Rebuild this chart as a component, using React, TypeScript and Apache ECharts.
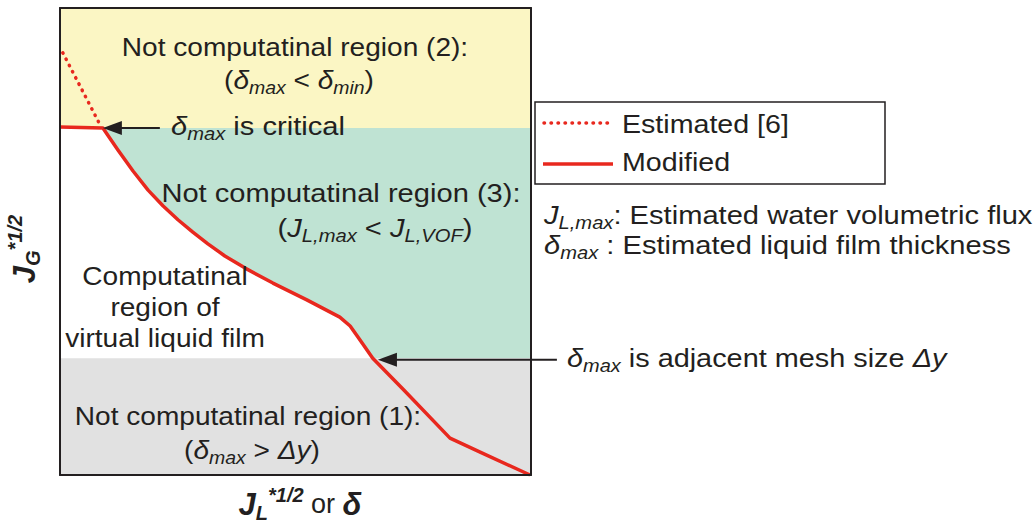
import React, { useEffect, useRef } from "react";
import * as echarts from "echarts";

// ---- data (abstract units: both axes 0..100) ----
const xRange = [0, 100];
const yRange = [0, 100];
const curveX = [0, 9.1, 12.3, 15.5, 18.7, 21.9, 25.1, 28.2, 31.4, 35.0, 39.3, 45.2, 52.4, 59.4, 61.6, 63.7, 66.4, 73.0, 82.8, 89.2, 99.8];
const curveY = [74.5, 74.3, 69.6, 65.1, 61.0, 57.6, 54.6, 52.0, 49.5, 46.9, 44.3, 41.1, 37.5, 33.8, 31.9, 28.9, 25.0, 18.2, 7.9, 4.9, 0];
const estX = [0.6, 8.5];
const estY = [90.4, 75.0];
const yellowBottom = 74.3;
const greyTop = 25.0;
const arrowCritical = [[21.2, 74.3], [9.1, 74.3]];
const arrowMesh = [[105.5, 24.7], [67.5, 24.7]];
const seriesNames = ["Estimated [6]", "Modified"];

const FONT = "'Liberation Sans', Arial, Helvetica, sans-serif";
const TXT = "#231f20";
const RED = "#e8281e";
const FS = 26;

const rich: any = {
  n: { fontSize: FS, lineHeight: 34, fontFamily: FONT, fill: TXT, color: TXT, verticalAlign: "middle" },
  i: { fontSize: FS, lineHeight: 34, fontFamily: FONT, fontStyle: "italic", fill: TXT, color: TXT, verticalAlign: "middle" },
  s: { fontSize: 18, lineHeight: 16, fontFamily: FONT, fontStyle: "italic", fill: TXT, color: TXT, verticalAlign: "bottom" },
  b: { fontSize: 31, lineHeight: 38, fontFamily: FONT, fontStyle: "italic", fontWeight: "bold", fill: TXT, color: TXT, verticalAlign: "middle" },
  bn: { fontSize: 27, lineHeight: 38, fontFamily: FONT, fill: TXT, color: TXT, verticalAlign: "middle" },
  bs: { fontSize: 20, lineHeight: 16, fontFamily: FONT, fontStyle: "italic", fontWeight: "bold", fill: TXT, color: TXT, verticalAlign: "bottom" },
  bp: { fontSize: 20, lineHeight: 19, fontFamily: FONT, fontStyle: "italic", fontWeight: "bold", fill: TXT, color: TXT, verticalAlign: "top" },
};

function txt(text: string, x: number, y: number, align = "center", sx = 1.08, extra: any = {}) {
  return {
    type: "text",
    x,
    y,
    scaleX: sx,
    z: 100,
    style: { text, rich, align, verticalAlign: "middle", fill: TXT, font: `${FS}px ${FONT}` },
    ...extra,
  };
}

export default function App() {
  const ref = useRef<HTMLDivElement>(null);
  useEffect(() => {
    const chart = echarts.init(ref.current!, null, { renderer: "svg" });
    const curve = curveX.map((x, k) => [x, curveY[k]]);
    const est = estX.map((x, k) => [x, estY[k]]);
    const teal = curve.filter((p) => p[1] >= greyTop).concat([[xRange[1], greyTop]]);
    const axisLine = { show: true, onZero: false, lineStyle: { color: TXT, width: 2 } };
    const hidden = { axisTick: { show: false }, axisLabel: { show: false }, splitLine: { show: false } };
    chart.setOption({
      animation: false,
      backgroundColor: "#fff",
      grid: { left: 60, top: 8, width: 471, height: 467 },
      xAxis: [
        { type: "value", min: xRange[0], max: xRange[1], position: "bottom", axisLine, ...hidden, z: 10 },
        { type: "value", min: xRange[0], max: xRange[1], position: "top", axisLine, ...hidden, z: 10 },
      ],
      yAxis: [
        { type: "value", min: yRange[0], max: yRange[1], position: "left", axisLine, ...hidden, z: 10 },
        { type: "value", min: yRange[0], max: yRange[1], position: "right", axisLine, ...hidden, z: 10 },
      ],
      series: [
        {
          type: "line", data: teal, symbol: "none", z: 1, silent: true,
          lineStyle: { width: 0, opacity: 0 },
          areaStyle: { color: "#bfe3d3", opacity: 1, origin: "end" },
        },
        {
          type: "line", data: [[xRange[0], yellowBottom], [xRange[1], yellowBottom]], symbol: "none", z: 2, silent: true,
          lineStyle: { width: 0, opacity: 0 },
          areaStyle: { color: "#fbf6c4", opacity: 1, origin: "end" },
        },
        {
          type: "line", data: [[xRange[0], greyTop], [xRange[1], greyTop]], symbol: "none", z: 2, silent: true,
          lineStyle: { width: 0, opacity: 0 },
          areaStyle: { color: "#e1e1e1", opacity: 1, origin: "start" },
        },
        {
          name: seriesNames[0], type: "line", data: est, symbol: "none", z: 5,
          lineStyle: { color: RED, width: 3.5, type: [0.5, 6.5], cap: "round" },
        },
        {
          name: seriesNames[1], type: "line", data: curve, symbol: "none", z: 5,
          lineStyle: { color: RED, width: 3.5, join: "round" },
        },
      ],
    });

    const arrow = (pts: number[][]) => {
      const a = chart.convertToPixel({ gridIndex: 0 }, pts[0]) as number[];
      const b = chart.convertToPixel({ gridIndex: 0 }, pts[1]) as number[];
      const dir = Math.sign(a[0] - b[0]);
      return [
        { type: "line", z: 90, shape: { x1: a[0], y1: a[1], x2: b[0] + dir * 12, y2: b[1] }, style: { stroke: TXT, lineWidth: 2 } },
        {
          type: "polygon", z: 90,
          shape: { points: [[b[0], b[1]], [b[0] + dir * 19, b[1] - 7], [b[0] + dir * 19, b[1] + 7]] },
          style: { fill: TXT },
        },
      ];
    };

    const legend = [
      { type: "rect", z: 80, shape: { x: 535, y: 102, width: 350, height: 82 }, style: { fill: "#fff", stroke: TXT, lineWidth: 1.5 } },
      { type: "line", z: 81, shape: { x1: 544, y1: 123, x2: 611, y2: 123 }, style: { stroke: RED, lineWidth: 3.5, lineDash: [0.5, 6.5], lineCap: "round" } },
      { type: "line", z: 81, shape: { x1: 543, y1: 164, x2: 613, y2: 164 }, style: { stroke: RED, lineWidth: 3.5 } },
      txt(`{n|${seriesNames[0]}}`, 622, 124, "left", 1.1),
      txt(`{n|${seriesNames[1]}}`, 622, 162, "left", 1.1),
    ];

    chart.setOption({
      graphic: [
        ...arrow(arrowCritical),
        ...arrow(arrowMesh),
        ...legend,
        txt("{n|Not computatinal region (2):}", 295, 47),
        txt("{n|(}{i|δ}{s|max}{n| < }{i|δ}{s|min}{n|)}", 299, 80),
        txt("{i|δ}{s|max}{n| is critical}", 171, 126, "left", 1.12),
        txt("{n|Not computatinal region (3):}", 341, 193, "center", 1.12),
        txt("{n|(}{i|J}{s|L,max}{n| < }{i|J}{s|L,VOF}{n|)}", 375, 228, "center", 1.12),
        txt("{n|Computatinal}", 165, 276),
        txt("{n|region of}", 165, 307),
        txt("{n|virtual liquid film}", 165, 338),
        txt("{n|Not computatinal region (1):}", 248, 416),
        txt("{n|(}{i|δ}{s|max}{n| > }{i|Δy}{n|)}", 252, 450),
        txt("{i|δ}{s|max}{n| is adjacent mesh size }{i|Δy}", 567, 358, "left", 1.11),
        txt("{i|J}{s|L,max}{n|: Estimated water volumetric flux}", 544, 215, "left", 1.12),
        txt("{i|δ}{s|max}{n| : Estimated liquid film thickness}", 544, 245, "left", 1.12),
        txt("{b|J}{bs|L}{bp|*1/2}{bn| or }{b|δ}", 300, 504, "center", 1),
        txt("{b|J}{bs|G}{bp|*1/2}", 24, 249, "center", 1, { rotation: Math.PI / 2 }),
      ],
    });
    return () => chart.dispose();
  }, []);
  return (
    <div
      ref={ref}
      style={{ position: "absolute", left: 0, top: 0, width: 1035, height: 525, background: "#fff" }}
    />
  );
}
